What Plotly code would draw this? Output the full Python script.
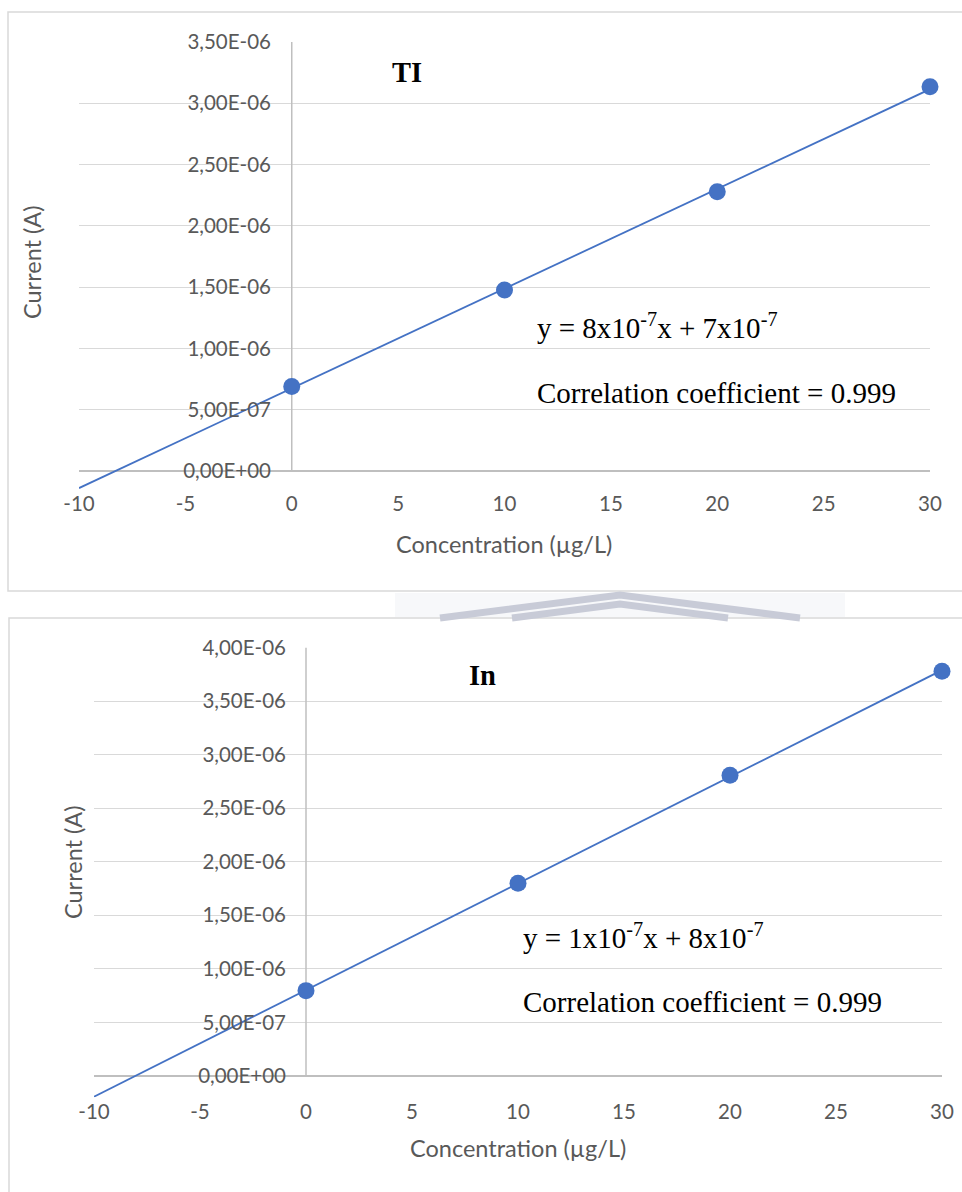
import numpy as np
import plotly.graph_objects as go

# ---------------- data ----------------
conc = [0, 10, 20, 30]
tl_current = [6.9e-7, 1.476e-6, 2.278e-6, 3.135e-6]
in_current = [7.96e-7, 1.798e-6, 2.808e-6, 3.778e-6]
x_ticks = [-10, -5, 0, 5, 10, 15, 20, 25, 30]
tl_y_ticks = [0, 5e-7, 1e-6, 1.5e-6, 2e-6, 2.5e-6, 3e-6, 3.5e-6]
in_y_ticks = [0, 5e-7, 1e-6, 1.5e-6, 2e-6, 2.5e-6, 3e-6, 3.5e-6, 4e-6]
trend_x = [-10, 30]

tl_label = "TI"
in_label = "In"
tl_eq = "y = 8x10<sup>-7</sup>x + 7x10<sup>-7</sup>"
in_eq = "y = 1x10<sup>-7</sup>x + 8x10<sup>-7</sup>"
corr_text = "Correlation coefficient = 0.999"
x_title = "Concentration (\u00b5g/L)"
y_title = "Current (A)"

# ---------------- helpers ----------------
W, H = 962, 1192
def px(x):
    return x / W
def py(y):
    return 1 - y / H

def sci(v):
    return f"{v:.2E}".replace(".", ",")

BLUE = "#4472C4"
GRID = "#d9d9d9"
AXIS = "#bfbfbf"
TXT = "#595959"
SANS = "Lato, Calibri, Carlito, sans-serif"
SERIF = "Liberation Serif, Times New Roman, serif"
TICK_SIZE = 20.5
TITLE_SIZE = 23.5

def trend(xs, ys):
    a, b = np.polyfit(xs, ys, 1)
    return [a * x + b for x in trend_x]

fig = go.Figure()

# Top chart (TI)
fig.add_trace(go.Scatter(x=trend_x, y=trend(conc, tl_current), mode="lines",
                         line=dict(color=BLUE, width=1.8), xaxis="x", yaxis="y",
                         showlegend=False, hoverinfo="skip"))
fig.add_trace(go.Scatter(x=conc, y=tl_current, mode="markers",
                         marker=dict(color=BLUE, size=17), xaxis="x", yaxis="y",
                         showlegend=False, cliponaxis=False))
# Bottom chart (In)
fig.add_trace(go.Scatter(x=trend_x, y=trend(conc, in_current), mode="lines",
                         line=dict(color=BLUE, width=1.8), xaxis="x2", yaxis="y2",
                         showlegend=False, hoverinfo="skip"))
fig.add_trace(go.Scatter(x=conc, y=in_current, mode="markers",
                         marker=dict(color=BLUE, size=17), xaxis="x2", yaxis="y2",
                         showlegend=False, cliponaxis=False))

def xaxis_cfg(domain, anchor):
    return dict(domain=domain, range=[x_ticks[0], x_ticks[-1]], anchor=anchor,
                tickmode="array", tickvals=x_ticks, ticktext=[str(v) for v in x_ticks],
                showgrid=False, zeroline=False, showline=False, ticks="",
                automargin=False,
                tickfont=dict(family=SANS, size=TICK_SIZE, color=TXT), fixedrange=True)

def yaxis_cfg(domain, rng, ticks, pos):
    return dict(domain=domain, range=rng, anchor="free", position=pos,
                tickmode="array", tickvals=ticks, ticktext=[sci(v) for v in ticks],
                showgrid=True, gridcolor=GRID, gridwidth=1.3,
                zeroline=True, zerolinecolor=AXIS, zerolinewidth=1.5,
                showline=False, ticks="", ticklabelstandoff=20,
                automargin=False,
                tickfont=dict(family=SANS, size=TICK_SIZE, color=TXT), fixedrange=True)

fig.update_layout(
    width=W, height=H, margin=dict(l=0, r=0, t=0, b=0, autoexpand=False),
    paper_bgcolor="white", plot_bgcolor="white", showlegend=False,
    xaxis=xaxis_cfg([px(79), px(930)], "y"),
    yaxis=yaxis_cfg([py(489.4), py(42)], [-1.5e-7, tl_y_ticks[-1]], tl_y_ticks, px(291)),
    xaxis2=xaxis_cfg([px(94), px(942)], "y2"),
    yaxis2=yaxis_cfg([py(1097.3), py(647.5)], [-2e-7, in_y_ticks[-1]], in_y_ticks, px(306)),
)

WM = "#c8cbd7"
shapes = [
    # chart frames
    dict(type="rect", xref="paper", yref="paper", x0=px(8), x1=px(990), y0=py(591), y1=py(12),
         line=dict(color=GRID, width=1.5), layer="below"),
    dict(type="rect", xref="paper", yref="paper", x0=px(9), x1=px(990), y0=py(1230), y1=py(618),
         line=dict(color=GRID, width=1.5), layer="below"),
    # vertical value axes at x = 0
    dict(type="line", xref="x", yref="y", x0=0, x1=0, y0=tl_y_ticks[0], y1=tl_y_ticks[-1],
         line=dict(color=AXIS, width=1.5), layer="between"),
    dict(type="line", xref="x2", yref="y2", x0=0, x1=0, y0=in_y_ticks[0], y1=in_y_ticks[-1],
         line=dict(color=AXIS, width=1.5), layer="between"),
    # faint watermark between the charts
    dict(type="rect", xref="paper", yref="paper", x0=px(395), x1=px(845), y0=py(617), y1=py(593),
         line=dict(width=0), fillcolor="#f7f8fa", layer="below"),
    dict(type="path", xref="paper", yref="paper",
         path=f"M {px(440)} {py(618)} L {px(620)} {py(595)} L {px(800)} {py(618)}",
         line=dict(color=WM, width=7), layer="below"),
    dict(type="path", xref="paper", yref="paper",
         path=f"M {px(512)} {py(618)} L {px(620)} {py(604)} L {px(728)} {py(618)}",
         line=dict(color=WM, width=7), layer="below"),
]
fig.update_layout(shapes=shapes)

def ann(text, x, y, size, family, color, xanchor="center", bold=False, angle=0):
    return dict(text=f"<b>{text}</b>" if bold else text, x=px(x), y=py(y),
                xref="paper", yref="paper", xanchor=xanchor, yanchor="middle",
                showarrow=False, textangle=angle,
                font=dict(family=family, size=size, color=color))

annotations = [
    ann(tl_label, 407, 72, 28.5, SERIF, "black", bold=True),
    ann(tl_eq, 535, 326, 29, SERIF, "black", xanchor="left"),
    ann(corr_text, 535, 393, 29, SERIF, "black", xanchor="left"),
    ann(y_title, 32, 262, TITLE_SIZE, SANS, TXT, angle=-90),
    ann(x_title, 504, 544, TITLE_SIZE, SANS, TXT),
    ann(in_label, 483, 675, 28.5, SERIF, "black", bold=True),
    ann(in_eq, 521, 936, 29, SERIF, "black", xanchor="left"),
    ann(corr_text, 521, 1002, 29, SERIF, "black", xanchor="left"),
    ann(y_title, 73, 862, TITLE_SIZE, SANS, TXT, angle=-90),
    ann(x_title, 518, 1148, TITLE_SIZE, SANS, TXT),
]
fig.update_layout(annotations=annotations)

fig.write_html("out.html")
